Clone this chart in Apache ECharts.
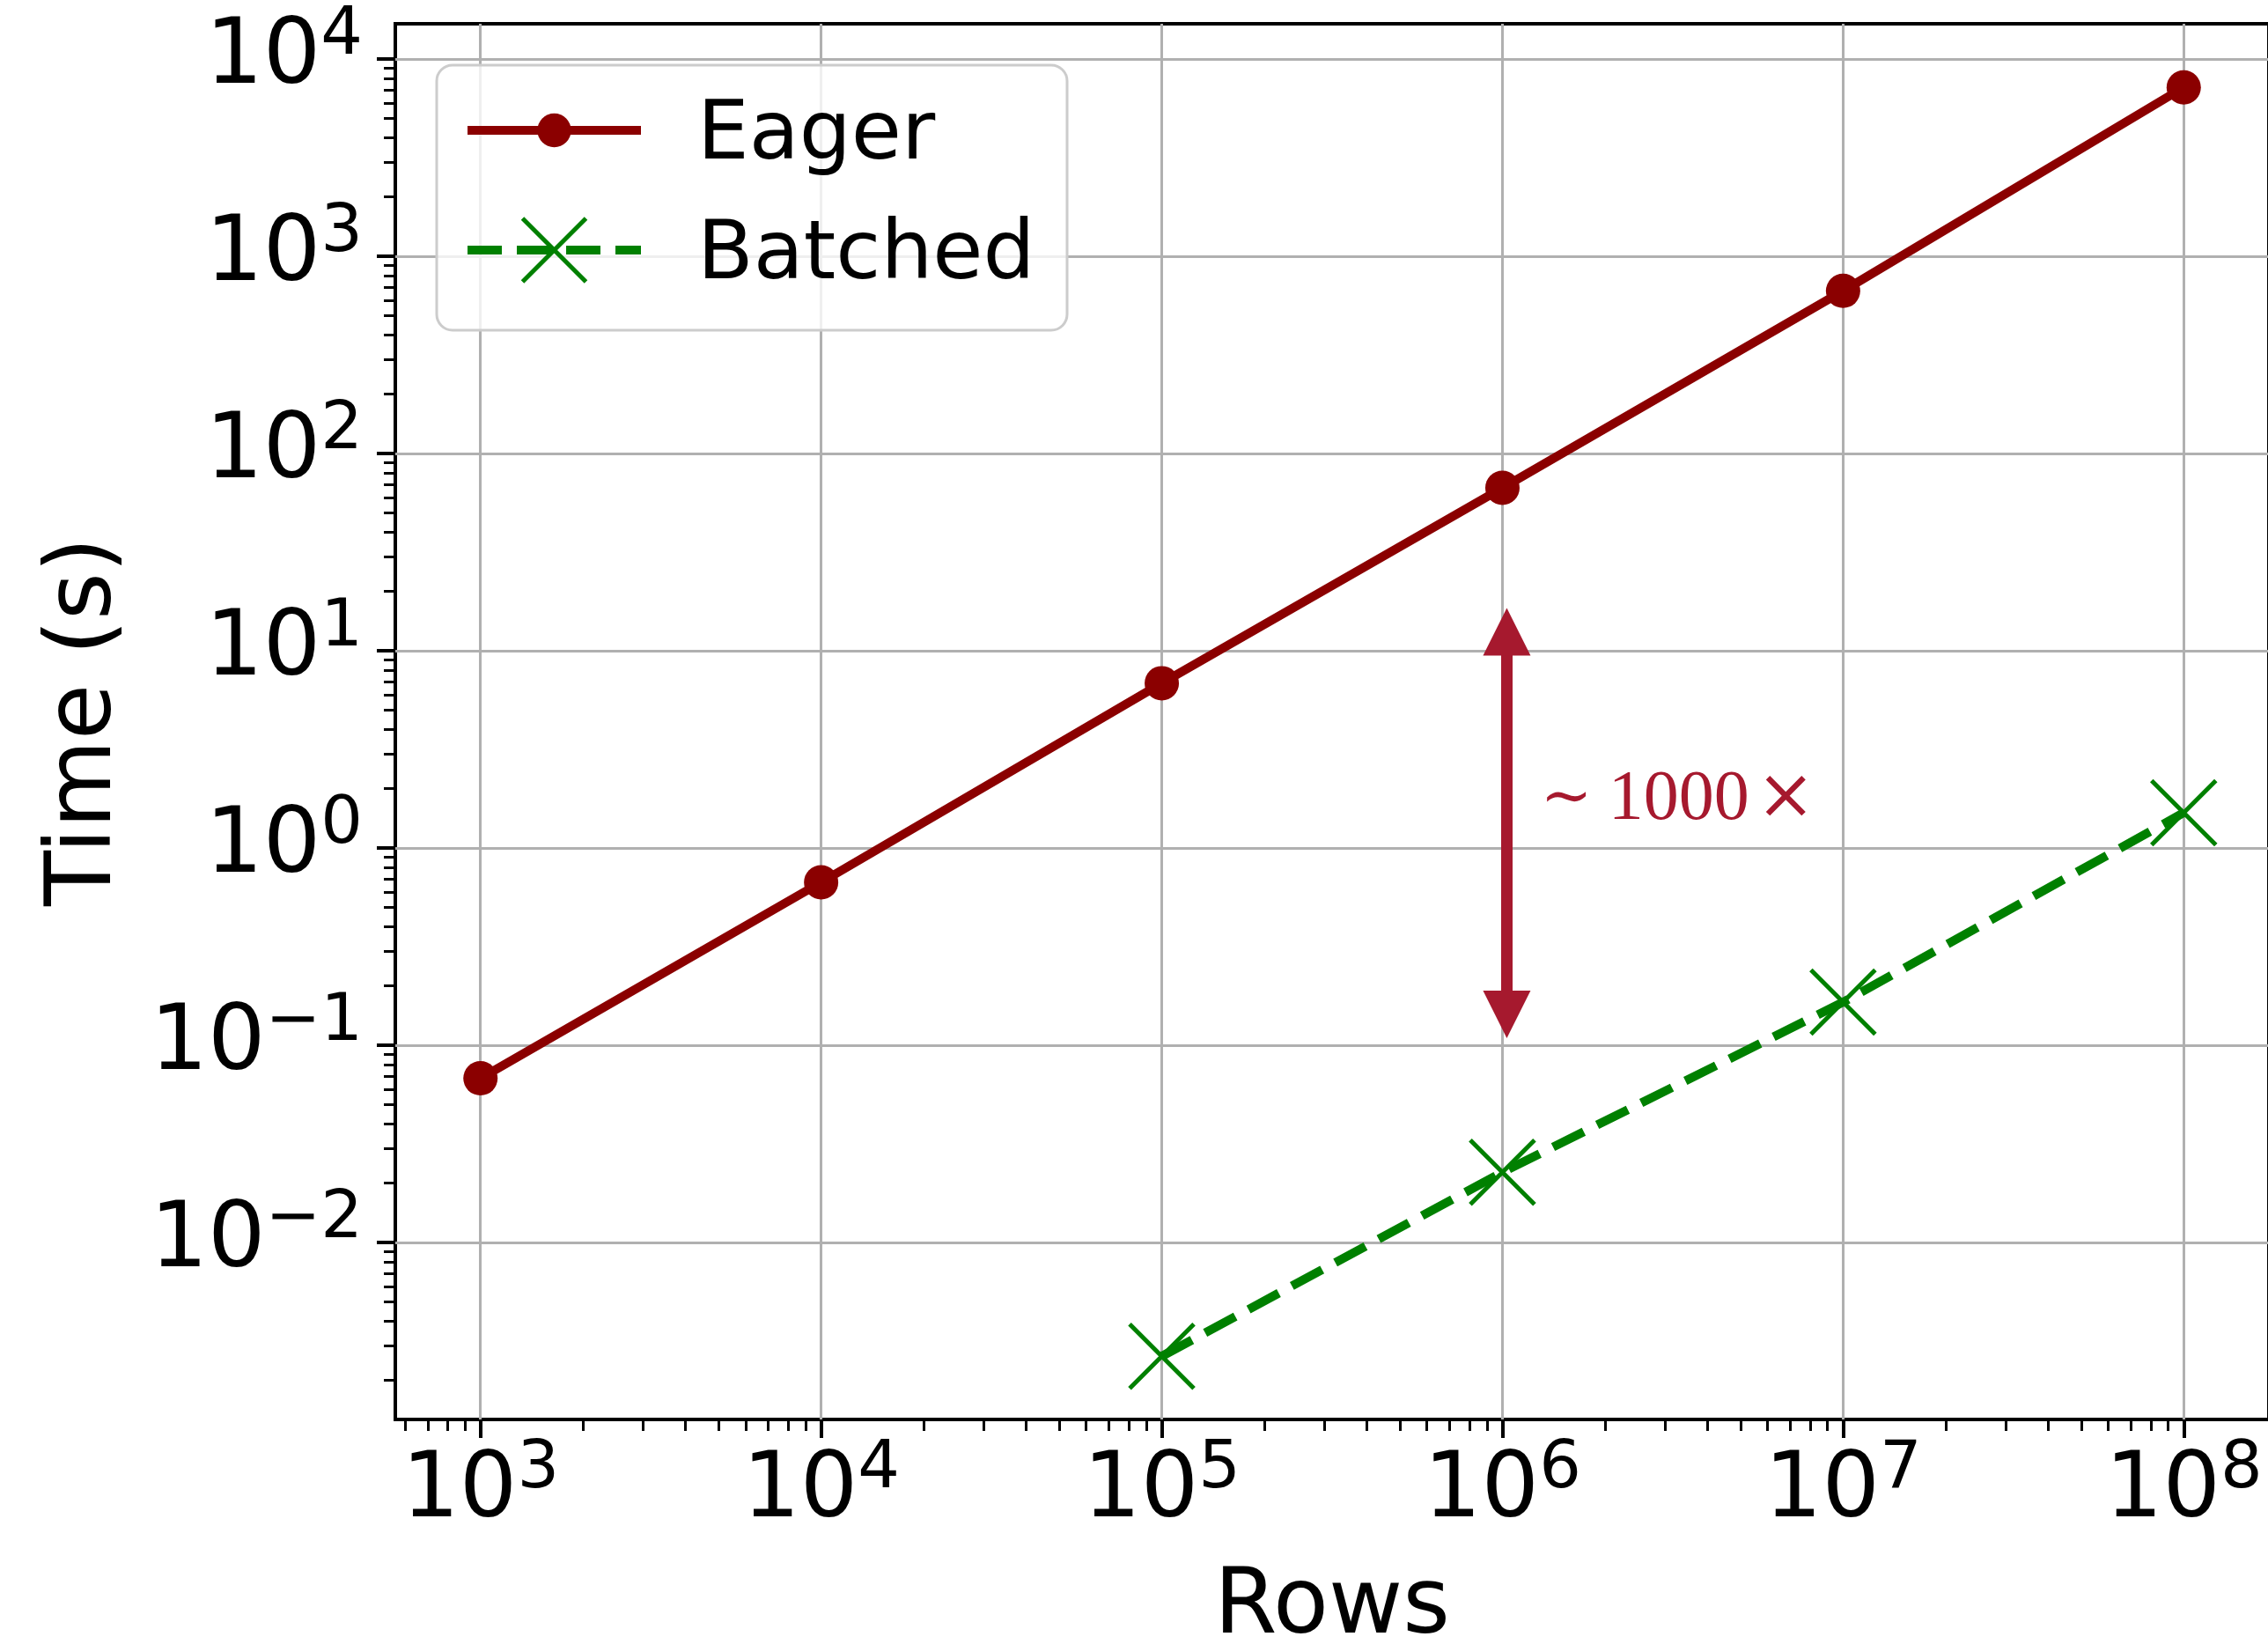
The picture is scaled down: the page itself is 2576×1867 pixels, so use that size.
<!DOCTYPE html>
<html><head><meta charset="utf-8">
<script src="https://cdn.jsdelivr.net/npm/echarts@6/dist/echarts.min.js"></script>
<style>html,body{margin:0;padding:0;background:#fff}#c{width:2576px;height:1867px}</style>
</head><body><div id="c"></div>
<script>
// ---- data (raw values) ----
const rows = [1e3, 1e4, 1e5, 1e6, 1e7, 1e8];
const eagerTime = [0.068, 0.67, 6.85, 67, 668, 7180];
const batchedRows = [1e5, 1e6, 1e7, 1e8];
const batchedTime = [0.00265, 0.0227, 0.1655, 1.51];
const seriesNames = ['Eager', 'Batched'];
// tick exponents (decades)
const xTickExp = [3, 4, 5, 6, 7, 8];
const yTickExp = [-2, -1, 0, 1, 2, 3, 4];
// axis extents (log10)
const xExtent = [2.75, 8.25];
const yExtent = [-2.897, 4.179];
// annotation
const arrowX = 1.03e6, arrowTop = 12.5, arrowBottom = 0.1435;
const noteX = 1.29e6, noteY = 1.75;
const noteParts = ['\u223C', '1000', '\u00D7'];

const L = Math.log10;
function minorTicks(ext) {
  const out = [];
  for (let d = Math.floor(ext[0]) - 1; d <= Math.ceil(ext[1]); d++) {
    for (let k = 2; k <= 9; k++) {
      const v = d + L(k);
      if (v >= ext[0] && v <= ext[1]) out.push(v);
    }
  }
  return out;
}
const FONT = 'DejaVu Sans';
const rich = {
  b: {fontSize: 103, fontFamily: FONT, lineHeight: 103, color: '#000'},
  s: {fontSize: 75, fontFamily: FONT, lineHeight: 52, padding: [0, 0, 51, 0], color: '#000'}
};
function expLabel(v) {
  const e = Math.round(v);
  const t = e < 0 ? '\u2212' + (-e) : String(e);
  return '{b|10}{s|' + t + '}';
}
const legendText = {
  fontSize: 93, fontFamily: FONT, color: '#000',
  rich: {a: {fontSize: 93, fontFamily: FONT, color: '#000', lineHeight: 93, padding: [16, 0, 0, 59]}}
};
const RED = '#8b0000', GREEN = '#008000', ANN = '#A6192E';

const chart = echarts.init(document.getElementById('c'), null, {renderer: 'canvas'});
chart.setOption({
  animation: false,
  backgroundColor: '#fff',
  textStyle: {fontFamily: FONT},
  grid: {left: 449, top: 27, width: 2128, height: 1585, show: true, borderColor: '#000', borderWidth: 4,
         backgroundColor: 'transparent', containLabel: false, outerBoundsMode: 'none'},
  xAxis: [{
    type: 'value', min: xExtent[0], max: xExtent[1], position: 'bottom',
    name: 'Rows', nameLocation: 'middle', nameGap: 164,
    nameTextStyle: {fontSize: 103, fontFamily: FONT, color: '#000'},
    axisLine: {show: false, onZero: false},
    axisTick: {show: true, inside: false, length: 21, customValues: xTickExp, lineStyle: {color: '#000', width: 4}},
    axisLabel: {show: true, customValues: xTickExp, margin: 32, formatter: expLabel, rich: rich},
    splitLine: {show: true, lineStyle: {color: '#b0b0b0', width: 3}}
  }, {
    type: 'value', min: xExtent[0], max: xExtent[1], position: 'bottom',
    axisLine: {show: false, onZero: false}, axisLabel: {show: false}, splitLine: {show: false},
    axisTick: {show: true, length: 13, customValues: minorTicks(xExtent), lineStyle: {color: '#000', width: 3}}
  }],
  yAxis: [{
    type: 'value', min: yExtent[0], max: yExtent[1], position: 'left',
    name: 'Time (s)', nameLocation: 'middle', nameGap: 299, nameRotate: 90,
    nameTextStyle: {fontSize: 103, fontFamily: FONT, color: '#000'},
    axisLine: {show: false, onZero: false},
    axisTick: {show: true, length: 21, customValues: yTickExp, lineStyle: {color: '#000', width: 4}},
    axisLabel: {show: true, customValues: yTickExp, margin: 37, formatter: expLabel, rich: rich},
    splitLine: {show: true, lineStyle: {color: '#b0b0b0', width: 3}}
  }, {
    type: 'value', min: yExtent[0], max: yExtent[1], position: 'left',
    axisLine: {show: false, onZero: false}, axisLabel: {show: false}, splitLine: {show: false},
    axisTick: {show: true, length: 13, customValues: minorTicks(yExtent), lineStyle: {color: '#000', width: 3}}
  }],
  graphic: [{
    type: 'rect', z: 3, shape: {x: 496, y: 74, width: 716, height: 301, r: 18},
    style: {fill: 'rgba(255,255,255,0.8)', stroke: '#cccccc', lineWidth: 3}
  }],
  legend: [{
    data: [seriesNames[0]], left: 526, top: 93.5, padding: 0, z: 4,
    itemWidth: 197, itemHeight: 48, selectedMode: false,
    formatter: n => '{a|' + n + '}', textStyle: legendText,
    lineStyle: {width: 10}, itemStyle: {borderWidth: 0}
  }, {
    data: [seriesNames[1]], left: 526, top: 229.5, padding: 0, z: 4,
    itemWidth: 197, itemHeight: 90, selectedMode: false,
    formatter: n => '{a|' + n + '}', textStyle: legendText,
    lineStyle: {width: 10, type: [39, 17]}, itemStyle: {borderWidth: 5, borderColor: GREEN}
  }],
  series: [{
    name: seriesNames[0], type: 'line', xAxisIndex: 0, yAxisIndex: 0,
    data: rows.map((r, i) => [L(r), L(eagerTime[i])]),
    symbol: 'circle', symbolSize: 39,
    lineStyle: {color: RED, width: 10},
    itemStyle: {color: RED, borderWidth: 0},
    emphasis: {disabled: true}, z: 2,
    markLine: {
      silent: true, symbol: ['triangle', 'triangle'], symbolSize: [54, 54],
      lineStyle: {color: ANN, width: 13, type: 'solid'},
      itemStyle: {color: ANN},
      label: {show: false}, emphasis: {disabled: true},
      data: [[{coord: [L(arrowX), L(arrowTop)]}, {coord: [L(arrowX), L(arrowBottom)]}]]
    },
    markPoint: {
      silent: true, symbol: 'circle', symbolSize: 1, itemStyle: {color: 'rgba(0,0,0,0)'},
      label: {show: true, position: 'right', distance: 0,
              formatter: '{t|' + noteParts[0] + '}{n|' + noteParts[1] + '}{x|' + noteParts[2] + '}',
              color: ANN,
              rich: {
                t: {fontFamily: 'DejaVu Serif', fontSize: 70, width: 77, color: ANN},
                n: {fontFamily: 'Liberation Serif', fontSize: 80, width: 168, color: ANN},
                x: {fontFamily: 'DejaVu Serif', fontSize: 80, color: ANN}
              }},
      data: [{coord: [L(noteX), L(noteY)]}]
    }
  }, {
    name: seriesNames[1], type: 'line', xAxisIndex: 0, yAxisIndex: 0,
    data: batchedRows.map((r, i) => [L(r), L(batchedTime[i])]),
    symbol: 'path://M0,0L10,10M10,0L0,10', symbolSize: 73,
    lineStyle: {color: GREEN, width: 10, type: [39, 17]},
    itemStyle: {color: GREEN, borderColor: GREEN, borderWidth: 5},
    emphasis: {disabled: true}, z: 2
  }]
});
</script></body></html>
